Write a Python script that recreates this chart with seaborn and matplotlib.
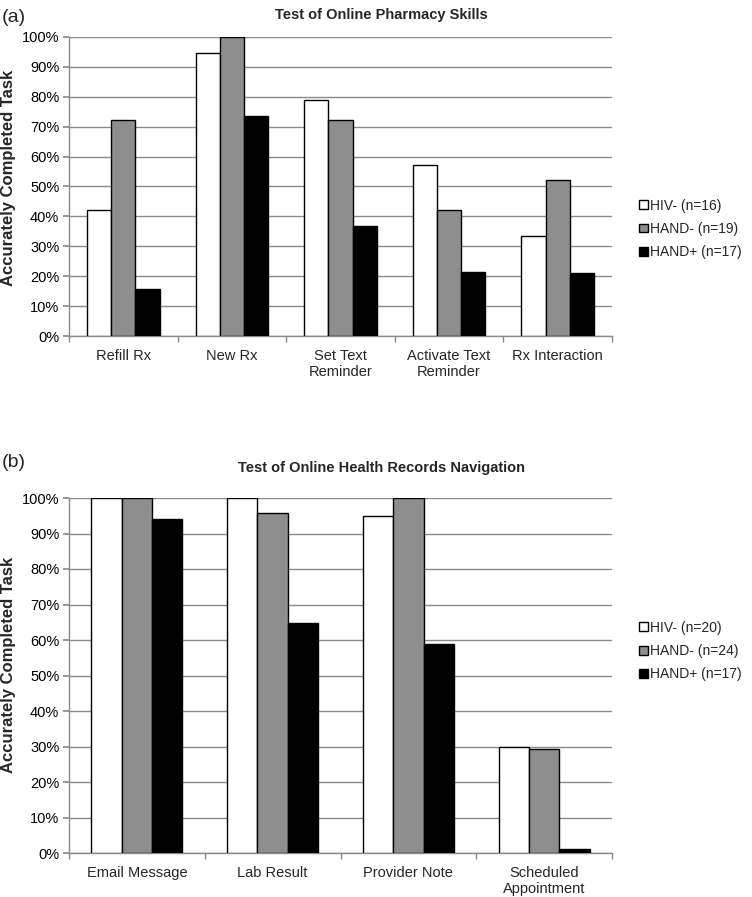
import numpy as np
import pandas as pd
import matplotlib
matplotlib.use("Agg")
import matplotlib.pyplot as plt
from matplotlib.ticker import FixedLocator, PercentFormatter
import seaborn as sns

# ---- data ----
cats_a = ["Refill Rx", "New Rx", "Set Text\nReminder", "Activate Text\nReminder", "Rx Interaction"]
groups_a = ["HIV- (n=16)", "HAND- (n=19)", "HAND+ (n=17)"]
hiv_neg_a = [42.1, 94.7, 78.9, 57.1, 33.3]
hand_neg_a = [72.2, 100.0, 72.2, 42.3, 52.1]
hand_pos_a = [15.8, 73.7, 36.8, 21.5, 21.1]

cats_b = ["Email Message", "Lab Result", "Provider Note", "Scheduled\nAppointment"]
groups_b = ["HIV- (n=20)", "HAND- (n=24)", "HAND+ (n=17)"]
hiv_neg_b = [100.0, 100.0, 95.0, 30.0]
hand_neg_b = [100.0, 95.8, 100.0, 29.2]
hand_pos_b = [94.1, 64.7, 58.8, 1.0]

title_a = "Test of Online Pharmacy Skills"
title_b = "Test of Online Health Records Navigation"
ylabel = "Accurately Completed Task"
colors = ["#ffffff", "#8e8e8e", "#000000"]

sns.set_theme(style="white")
plt.rcParams["font.family"] = ["Liberation Sans", "DejaVu Sans"]

FS = 10.5

fig = plt.figure(figsize=(7.52, 8.97), dpi=100)

def make_df(cats, groups, series):
    rows = []
    for g, vals in zip(groups, series):
        for c, v in zip(cats, vals):
            rows.append({"cat": c, "group": g, "value": v})
    return pd.DataFrame(rows)

def panel(rect, cats, groups, series, leg_y):
    ax = fig.add_axes(rect)
    df = make_df(cats, groups, series)
    sns.barplot(data=df, x="cat", y="value", hue="group", order=cats,
                hue_order=groups, palette=colors, width=0.67,
                edgecolor="black", linewidth=1.0, errorbar=None, ax=ax,
                zorder=3)
    n = len(cats)
    ax.set_xlim(-0.5, n - 0.5)
    ax.set_ylim(0, 100)
    ax.yaxis.set_major_locator(FixedLocator(np.arange(0, 101, 10)))
    ax.yaxis.set_major_formatter(PercentFormatter(decimals=0))
    ax.grid(axis="y", color="#8a8a8a", linewidth=1.0, zorder=0)
    ax.set_axisbelow(True)
    for s in ["top", "right"]:
        ax.spines[s].set_visible(False)
    for s in ["left", "bottom"]:
        ax.spines[s].set_color("#8a8a8a")
        ax.spines[s].set_linewidth(1.0)
    ax.tick_params(axis="y", which="major", left=True, length=4, color="#8a8a8a",
                   labelsize=FS, pad=3, labelcolor="black")
    ax.tick_params(axis="x", which="major", bottom=False, labelsize=FS, pad=3.5)
    ax.xaxis.set_minor_locator(FixedLocator(np.arange(-0.5, n, 1.0)))
    ax.tick_params(axis="x", which="minor", bottom=True, length=4, color="#8a8a8a")
    ax.set_xlabel("")
    ax.set_ylabel(ylabel, fontsize=12, fontweight="bold")
    ax.yaxis.set_label_coords(-0.097, 0.53)
    handles, labels = ax.get_legend_handles_labels()
    ax.legend(handles, labels, loc="center left", bbox_to_anchor=(1.04, leg_y),
              frameon=False, fontsize=10, handlelength=0.6, handleheight=0.6,
              handletextpad=0.15, labelspacing=0.68, borderaxespad=0)
    return ax

ax1 = panel([69/752, 1 - 336/897, 543/752, 299/897], cats_a, groups_a,
            [hiv_neg_a, hand_neg_a, hand_pos_a], 0.358)
ax2 = panel([69/752, 1 - 853/897, 543/752, 355/897], cats_b, groups_b,
            [hiv_neg_b, hand_neg_b, hand_pos_b], 0.569)

fig.text(381/752, 1 - 15/897, title_a, ha="center", va="center",
         fontsize=FS, fontweight="bold")
fig.text(381/752, 1 - 468/897, title_b, ha="center", va="center",
         fontsize=FS, fontweight="bold")
fig.text(2/752, 1 - 18/897, "(a)", ha="left", va="center", fontsize=14)
fig.text(2/752, 1 - 462/897, "(b)", ha="left", va="center", fontsize=14)

fig.savefig("out.png", dpi=100)
